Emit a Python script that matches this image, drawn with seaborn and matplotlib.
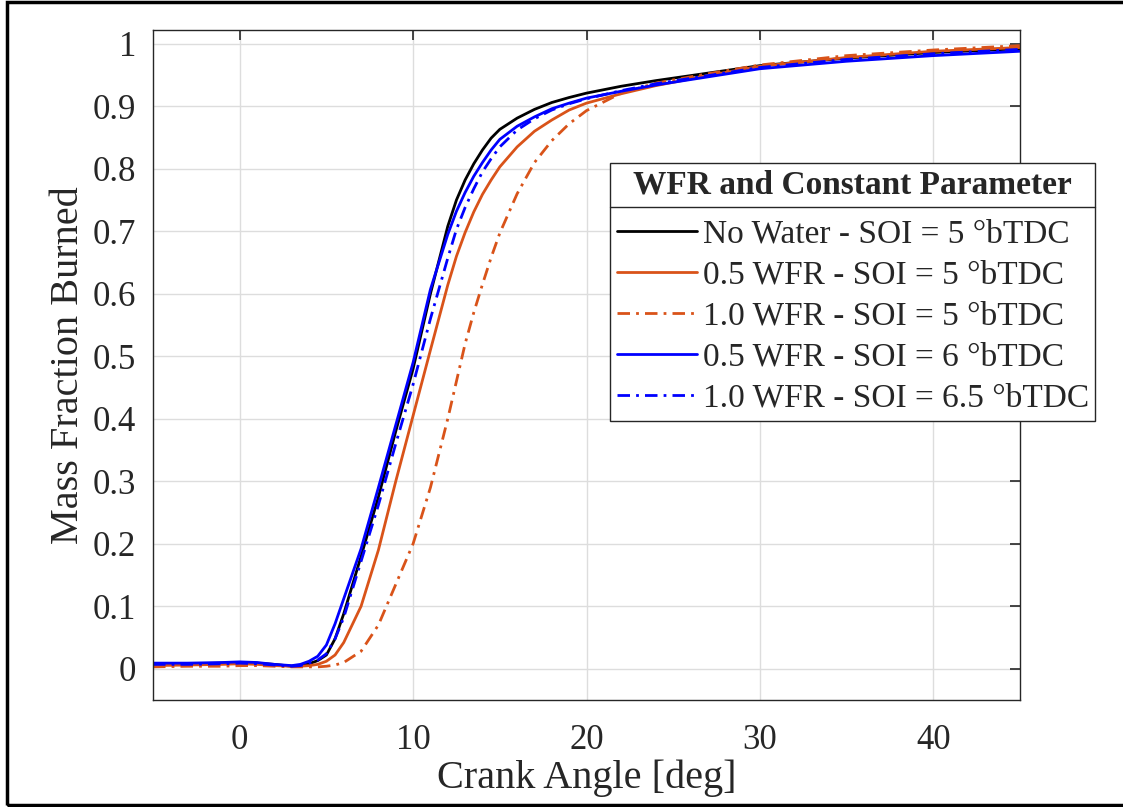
import numpy as np
import pandas as pd
import matplotlib
matplotlib.use("Agg")
import matplotlib.pyplot as plt
from matplotlib.patches import Rectangle
from matplotlib.lines import Line2D
import seaborn as sns

# crank angle grid (deg)
crank_angle = [-5, -3, -1, 0, 1, 2, 3, 3.5, 4, 4.5, 5, 5.5, 6, 7, 8, 9, 10, 11, 12,
               12.5, 13, 13.5, 14, 14.5, 15, 16, 17, 18, 19, 20, 22, 24, 27, 30, 35, 40, 45]

mfb_no_water = [.007, .008, .009, .010, .009, .007, .004, .005, .008, .013, .022, .048, .088,
                .180, .275, .380, .480, .600, .708, .750, .782, .808, .830, .849, .863,
                .881, .895, .906, .914, .921, .932, .941, .953, .965, .977, .986, .992]
mfb_05_soi5 = [.005, .006, .007, .008, .007, .005, .004, .004, .005, .007, .012, .022, .042,
               .100, .190, .300, .405, .510, .614, .660, .698, .731, .759, .782, .803,
               .835, .860, .878, .894, .905, .920, .933, .949, .964, .978, .988, .994]
mfb_10_soi5 = [.003, .004, .004, .005, .005, .004, .003, .003, .003, .003, .004, .006, .010,
               .028, .070, .135, .200, .290, .400, .460, .520, .570, .615, .658, .697,
               .760, .810, .845, .872, .893, .921, .937, .952, .966, .981, .990, .997]
mfb_05_soi6 = [.009, .009, .010, .011, .010, .007, .005, .007, .012, .020, .038, .072, .112,
               .192, .290, .390, .490, .607, .695, .732, .762, .788, .810, .830, .847,
               .868, .883, .896, .905, .913, .924, .934, .947, .960, .972, .981, .988]
mfb_10_soi65 = [.007, .007, .008, .009, .008, .006, .004, .005, .009, .014, .024, .048, .082,
                .172, .262, .360, .455, .560, .657, .703, .738, .768, .795, .816, .835,
                .862, .880, .894, .904, .912, .925, .936, .949, .962, .975, .984, .991]

labels = ["No Water - SOI = 5 °bTDC", "0.5 WFR - SOI = 5 °bTDC", "1.0 WFR - SOI = 5 °bTDC",
          "0.5 WFR - SOI = 6 °bTDC", "1.0 WFR - SOI = 6.5 °bTDC"]
series = [mfb_no_water, mfb_05_soi5, mfb_10_soi5, mfb_05_soi6, mfb_10_soi65]

orange = "#D95319"
colors = ["black", orange, orange, "#0000FF", "#0000FF"]
dashdot = (0, (4.5, 2.2, 1, 2.2))
styles = ["-", "-", dashdot, "-", dashdot]

sns.set_theme(style="whitegrid")
plt.rcParams["font.family"] = ["Liberation Serif", "DejaVu Serif"]

fig = plt.figure(figsize=(11.23, 8.07), dpi=100)
ax = fig.add_axes([153 / 1123, 1 - 700 / 807, 867 / 1123, 670 / 807])

for vals, lab, c, ls in zip(series, labels, colors, styles):
    df = pd.DataFrame({"ca": crank_angle, "mfb": vals})
    sns.lineplot(data=df, x="ca", y="mfb", ax=ax, color=c, linestyle=ls,
                 linewidth=2.0, label=lab)

ax.set_xlim(-5, 45)
ax.set_ylim(-0.05, 1.022)
ax.set_xticks([0, 10, 20, 30, 40])
ax.set_yticks(np.arange(0, 1.01, 0.1))
ax.set_yticklabels(["0", "0.1", "0.2", "0.3", "0.4", "0.5", "0.6", "0.7", "0.8", "0.9", "1"])
ax.set_xlabel("Crank Angle [deg]", fontsize=29, color="#262626", labelpad=2)
ax.set_ylabel("Mass Fraction Burned", fontsize=29, color="#262626", labelpad=4)
ax.tick_params(axis="both", which="both", direction="in", length=7, width=1.2,
               colors="#262626", labelsize=25, top=True, right=True)
ax.tick_params(axis="x", pad=17)
ax.tick_params(axis="y", pad=12)
ax.grid(True, color="#DDDDDD", linewidth=1.0)
ax.set_facecolor("white")
for sp in ax.spines.values():
    sp.set_color("#262626")
    sp.set_linewidth(1.0)

leg = ax.legend(loc="upper left", bbox_to_anchor=(610 / 1123, 1 - 163 / 807),
                bbox_transform=fig.transFigure, borderaxespad=0, fontsize=24,
                title="WFR and Constant Parameter",
                title_fontproperties={"weight": "bold", "size": 24, "family": "Liberation Serif"},
                frameon=True, fancybox=False, framealpha=1, edgecolor="#262626",
                handlelength=2.4, handletextpad=0.18, labelspacing=0.32,
                borderpad=0.2)
leg.get_frame().set_linewidth(1.0)
# more room between the title and the entries
leg._legend_box.sep = 13

# separator line under legend title
fig.canvas.draw()
fb = leg.get_frame().get_window_extent()
tb = leg.get_title().get_window_extent()
inv = fig.transFigure.inverted()
(x0, ysep), (x1, _) = inv.transform([(fb.x0, tb.y0 - 6), (fb.x1, tb.y0 - 6)])
fig.add_artist(Line2D([x0, x1], [ysep, ysep], transform=fig.transFigure,
                      color="#262626", linewidth=1.0, zorder=10))

# outer figure border
fig.add_artist(Rectangle((7 / 1123, 2 / 807), 1.2, 803 / 807, transform=fig.transFigure,
                         fill=False, edgecolor="black", linewidth=2.5, clip_on=False))

fig.savefig("out.png", dpi=100)
